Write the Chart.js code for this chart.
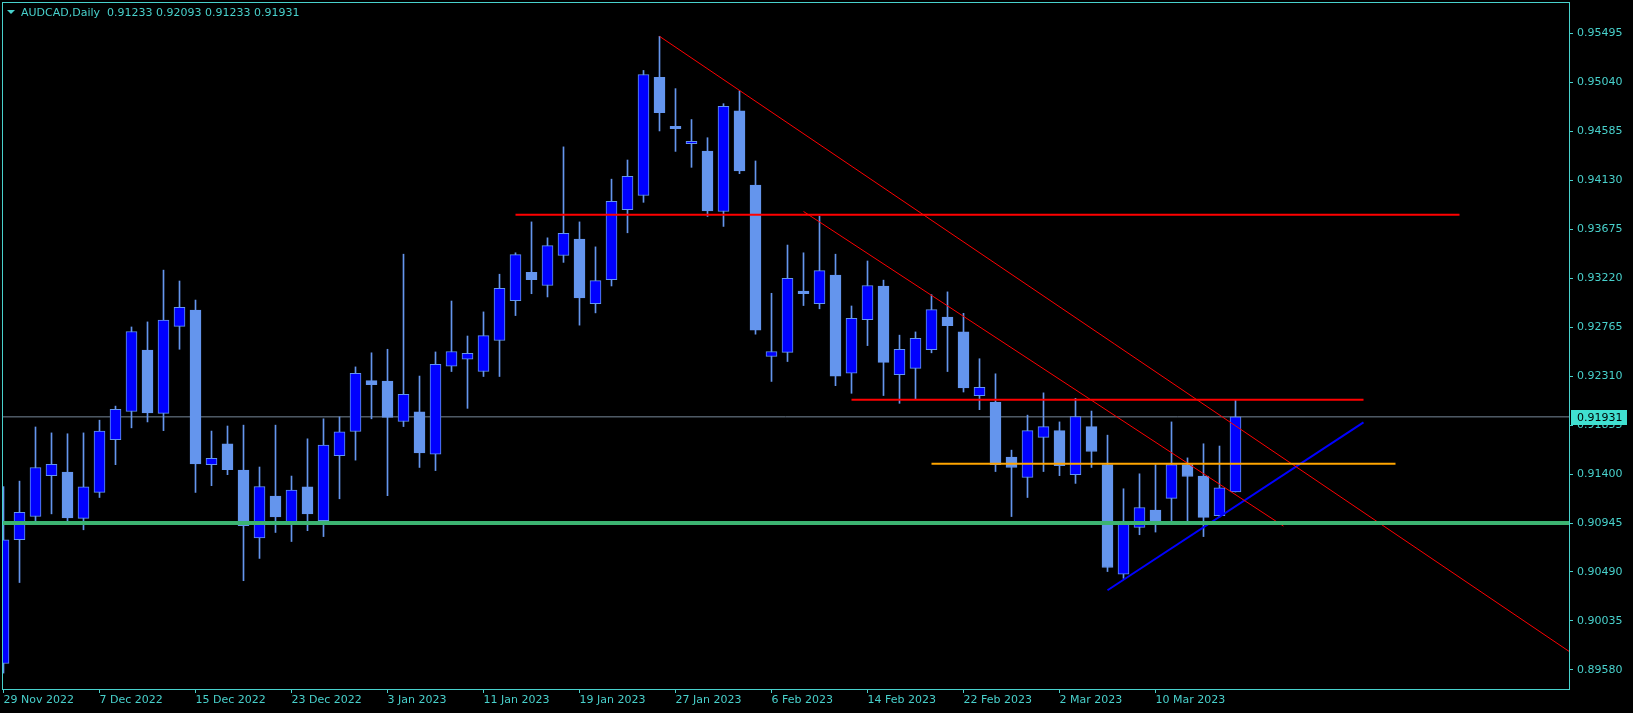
<!DOCTYPE html>
<html>
<head>
<meta charset="utf-8">
<title>AUDCAD Daily</title>
<script src="https://cdn.jsdelivr.net/npm/chart.js@4.4.0/dist/chart.umd.min.js"></script>
<style>
  html, body { margin: 0; padding: 0; background: #000; }
  #wrap { position: relative; width: 1633px; height: 713px; }
  #header { position: absolute; left: 7px; top: 6px; font: 11px "DejaVu Sans", sans-serif; color: #48d1cc; white-space: pre; line-height: 13px; }
  .tri { display: inline-block; width: 0; height: 0; border-left: 4px solid transparent; border-right: 4px solid transparent; border-top: 4px solid #48d1cc; margin-right: 6px; vertical-align: 2px; }
</style>
</head>
<body>
<div id="wrap">
  <canvas id="chart" width="1633" height="713"></canvas>
  <div id="header"><span class="tri"></span><span id="header-text"></span></div>
</div>
<script>
// 数据
const symbol = 'AUDCAD,Daily';
const opens = [0.89640, 0.90790, 0.91005, 0.91385, 0.91419, 0.90988, 0.91229, 0.91719, 0.91981, 0.92551,
  0.91964, 0.92771, 0.92923, 0.91487, 0.91681, 0.91436, 0.90806, 0.91195, 0.90950, 0.91280,
  0.90967, 0.91571, 0.91795, 0.92268, 0.92264, 0.91888, 0.91977, 0.91584, 0.92403, 0.92466,
  0.92352, 0.92640, 0.93011, 0.93273, 0.93151, 0.93430, 0.93582, 0.92982, 0.93206, 0.93856,
  0.93987, 0.95085, 0.94629, 0.94469, 0.94401, 0.93839, 0.94773, 0.94084, 0.92492, 0.92530,
  0.93100, 0.92982, 0.93248, 0.92336, 0.92834, 0.93147, 0.92323, 0.92382, 0.92555, 0.92859,
  0.92720, 0.92129, 0.92069, 0.91558, 0.91368, 0.91740, 0.91803, 0.91394, 0.91841, 0.91487,
  0.90469, 0.90904, 0.91064, 0.91174, 0.91487, 0.91381, 0.91013, 0.91233];
const highs = [0.91283, 0.91334, 0.91837, 0.91782, 0.91774, 0.91782, 0.91900, 0.92031, 0.92766, 0.92813,
  0.93294, 0.93193, 0.93016, 0.91799, 0.91846, 0.91854, 0.91465, 0.91854, 0.91381, 0.91727,
  0.91913, 0.91930, 0.92395, 0.92526, 0.92559, 0.93442, 0.92310, 0.92534, 0.93007, 0.92682,
  0.92906, 0.93256, 0.93455, 0.93742, 0.93594, 0.94439, 0.93742, 0.93510, 0.94139, 0.94317,
  0.95149, 0.95466, 0.94980, 0.94693, 0.94524, 0.94840, 0.94959, 0.94308, 0.93079, 0.93527,
  0.93455, 0.93797, 0.93442, 0.92961, 0.93379, 0.93201, 0.92690, 0.92720, 0.93066, 0.93092,
  0.92893, 0.92471, 0.92331, 0.91622, 0.91947, 0.92154, 0.91884, 0.92103, 0.91985, 0.91761,
  0.91263, 0.91402, 0.91487, 0.91884, 0.91550, 0.91681, 0.91660, 0.92093];
const lows = [0.89551, 0.90392, 0.90967, 0.91030, 0.90946, 0.90882, 0.91182, 0.91487, 0.91829, 0.91884,
  0.91803, 0.92559, 0.91229, 0.91292, 0.91394, 0.90409, 0.90616, 0.90857, 0.90773, 0.90874,
  0.90819, 0.91170, 0.91529, 0.91913, 0.91199, 0.91841, 0.91461, 0.91432, 0.92352, 0.92010,
  0.92306, 0.92306, 0.92872, 0.93075, 0.93045, 0.93366, 0.92783, 0.92897, 0.93147, 0.93641,
  0.93924, 0.94587, 0.94397, 0.94249, 0.93793, 0.93700, 0.94190, 0.92699, 0.92260, 0.92445,
  0.92965, 0.92935, 0.92221, 0.92150, 0.92593, 0.92129, 0.92057, 0.92095, 0.92526, 0.92352,
  0.92162, 0.91998, 0.91423, 0.91005, 0.91182, 0.91423, 0.91385, 0.91313, 0.91461, 0.90494,
  0.90431, 0.90836, 0.90861, 0.90954, 0.90954, 0.90819, 0.91001, 0.91233];
const closes = [0.90789, 0.91043, 0.91461, 0.91491, 0.90992, 0.91280, 0.91799, 0.92002, 0.92724, 0.91968,
  0.92830, 0.92948, 0.91495, 0.91546, 0.91440, 0.90921, 0.91284, 0.91001, 0.91250, 0.91030,
  0.91668, 0.91791, 0.92336, 0.92230, 0.91926, 0.92141, 0.91596, 0.92420, 0.92538, 0.92521,
  0.92686, 0.93125, 0.93438, 0.93206, 0.93522, 0.93637, 0.93037, 0.93197, 0.93932, 0.94165,
  0.95111, 0.94756, 0.94608, 0.94490, 0.93844, 0.94815, 0.94215, 0.92737, 0.92538, 0.93218,
  0.93075, 0.93290, 0.92310, 0.92847, 0.93151, 0.92437, 0.92559, 0.92661, 0.92927, 0.92779,
  0.92200, 0.92205, 0.91487, 0.91461, 0.91803, 0.91841, 0.91478, 0.91934, 0.91609, 0.90532,
  0.90942, 0.91089, 0.90929, 0.91487, 0.91377, 0.90997, 0.91271, 0.91931];

// 每6根K线一个日期标签
const dateLabels = ['29 Nov 2022', '7 Dec 2022', '15 Dec 2022', '23 Dec 2022', '3 Jan 2023', '11 Jan 2023',
  '19 Jan 2023', '27 Jan 2023', '6 Feb 2023', '14 Feb 2023', '22 Feb 2023', '2 Mar 2023', '10 Mar 2023'];
const dateStep = 6;
const priceTicks = [0.95495, 0.95040, 0.94585, 0.94130, 0.93675, 0.93220, 0.92765,
  0.92310, 0.91855, 0.91400, 0.90945, 0.90490, 0.90035, 0.89580];

// 画线对象 (K线序号, 价格)
const upperLevel = [{ x: 32, y: 0.93809 }, { x: 91, y: 0.93809 }];
const middleLevel = [{ x: 53, y: 0.92090 }, { x: 85, y: 0.92090 }];
const orangeLevel = [{ x: 58, y: 0.91495 }, { x: 87, y: 0.91495 }];
const supportLevel = 0.90945;
const trendLong = [{ x: 41, y: 0.95466 }, { x: 98, y: 0.89737 }];
const trendShort = [{ x: 50, y: 0.93839 }, { x: 80, y: 0.90916 }];
const trendUp = [{ x: 69, y: 0.90320 }, { x: 85, y: 0.91879 }];

// 样式
const axisColor = '#48d1cc';
const bullColor = '#0000ff';
const bearColor = '#6495ed';
const xMin = -0.09375, xMax = 97.84375;
const yMin = 0.89403, yMax = 0.957848;

const last = closes.length - 1;
document.getElementById('header-text').textContent =
  `${symbol}  ${opens[last].toFixed(5)} ${highs[last].toFixed(5)} ${lows[last].toFixed(5)} ${closes[last].toFixed(5)}`;

Chart.defaults.font.family = '"DejaVu Sans", sans-serif';
Chart.defaults.font.size = 11;

function lineSet(points, color, width) {
  return {
    type: 'line', data: points, borderColor: color, borderWidth: width,
    pointRadius: 0, fill: false, tension: 0, order: 0
  };
}

// 图表外框
const frame = {
  id: 'frame',
  afterDatasetsDraw(chart) {
    const { ctx, chartArea: a } = chart;
    ctx.save();
    ctx.strokeStyle = axisColor;
    ctx.lineWidth = 1;
    ctx.strokeRect(a.left + 0.5, a.top + 0.5, a.right - a.left, a.bottom - a.top);
    ctx.restore();
  }
};

// 当前价标签
const bidLabel = {
  id: 'bidLabel',
  afterDraw(chart) {
    const { ctx, chartArea: a, scales: { y } } = chart;
    const py = Math.round(y.getPixelForValue(closes[last]));
    ctx.save();
    ctx.fillStyle = '#40e0d0';
    ctx.fillRect(a.right + 2, py - 7, 56, 15);
    ctx.fillStyle = '#000';
    ctx.font = '11px "DejaVu Sans"';
    ctx.textBaseline = 'middle';
    ctx.fillText(closes[last].toFixed(5), a.right + 8, py + 1);
    ctx.restore();
  }
};

const ctx = document.getElementById('chart').getContext('2d');
new Chart(ctx, {
  type: 'bar',
  data: {
    datasets: [
      lineSet(upperLevel, '#ff0000', 2),
      lineSet(middleLevel, '#ff0000', 2),
      lineSet(orangeLevel, '#ffa500', 2),
      lineSet([{ x: xMin, y: supportLevel }, { x: xMax, y: supportLevel }], '#3cb371', 4),
      lineSet(trendLong, '#ff0000', 1),
      lineSet(trendShort, '#ff0000', 1),
      lineSet(trendUp, '#0000ff', 2),
      {
        type: 'bar', order: 1, grouped: false,
        data: opens.map((o, i) => ({ x: i, y: [o, closes[i]] })),
        backgroundColor: opens.map((o, i) => closes[i] >= o ? bullColor : bearColor),
        borderColor: bearColor, borderWidth: 1, borderSkipped: false, barThickness: 11
      },
      {
        type: 'bar', order: 2, grouped: false,
        data: lows.map((l, i) => ({ x: i, y: [l, highs[i]] })),
        backgroundColor: bearColor, borderWidth: 0, barThickness: 1
      },
      {
        type: 'line', order: 3, borderColor: '#778899', borderWidth: 1, pointRadius: 0,
        data: [{ x: xMin, y: closes[last] }, { x: xMax, y: closes[last] }]
      }
    ]
  },
  options: {
    responsive: false,
    animation: false,
    layout: { padding: { left: 2, top: 2, right: 0, bottom: 0 } },
    plugins: { legend: { display: false }, tooltip: { enabled: false } },
    scales: {
      x: {
        type: 'linear', min: xMin, max: xMax, offset: false,
        grid: { drawOnChartArea: false, drawTicks: true, tickLength: 4, color: axisColor, offset: false },
        border: { display: false },
        ticks: {
          color: axisColor, autoSkip: false, maxRotation: 0, align: 'start', padding: 1,
          callback: (v, i) => dateLabels[i]
        },
        afterBuildTicks: s => { s.ticks = dateLabels.map((_, i) => ({ value: i * dateStep })); },
        afterFit: s => { s.height = 24; s.paddingLeft = 0; s.paddingRight = 0; }
      },
      y: {
        type: 'linear', position: 'right', min: yMin, max: yMax,
        grid: { drawOnChartArea: false, drawTicks: true, tickLength: 4, color: axisColor },
        border: { display: false },
        ticks: { color: axisColor, padding: 4, callback: v => v.toFixed(5) },
        afterBuildTicks: s => { s.ticks = priceTicks.map(v => ({ value: v })); },
        afterFit: s => { s.width = 64; s.paddingTop = 0; s.paddingBottom = 0; }
      }
    }
  },
  plugins: [frame, bidLabel]
});
</script>
</body>
</html>
